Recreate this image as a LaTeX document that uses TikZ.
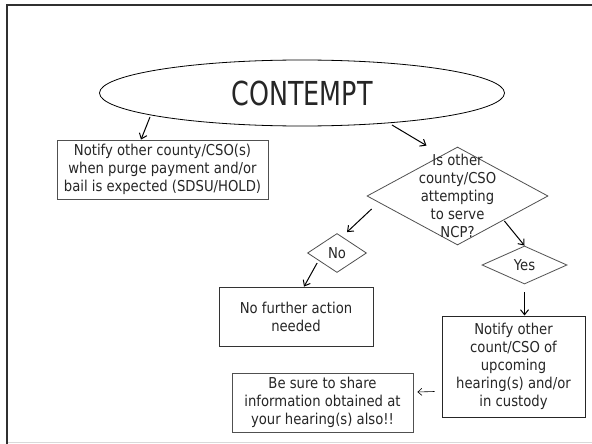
\documentclass[tikz,border=0pt]{standalone}
\usepackage{fontspec}
\setmainfont{DejaVu Sans}[FakeStretch=0.88]
\newfontfamily\titlefont{DejaVu Sans}[FakeStretch=0.77]
\usetikzlibrary{shapes.geometric,arrows.meta,calc}

\definecolor{ink}{HTML}{262626}
\definecolor{edge}{HTML}{505050}
\definecolor{framec}{HTML}{303030}

\tikzset{
  body/.style={font=\fontsize{15}{18}\selectfont, text=ink, align=center},
  box/.style={body, draw=edge, line width=0.8pt, inner sep=0pt, fill=white},
  decision/.style={body, diamond, draw=edge, line width=0.8pt, inner sep=0pt, fill=white},
  flow/.style={line width=1pt, -{Straight Barb[length=5pt,width=8pt]}},
  thinflow/.style={line width=0.6pt, -{Straight Barb[length=4pt,width=7pt]}},
}

\begin{document}
\begin{tikzpicture}[x=1pt, y=-1pt]
  \useasboundingbox (0,0) rectangle (592,444);
  \fill[white] (0,0) rectangle (592,444);

  % slide frame
  \draw[framec, line width=2.5pt] (7,444) -- (7,5) -- (592,5);
  \draw[black!15, line width=1pt] (8,442) -- (592,442);

  % start
  \node[ellipse, draw=black, line width=0.8pt, fill=white, inner sep=0pt,
        minimum width=405pt, minimum height=66pt,
        font=\titlefont\fontsize{33}{40}\selectfont, text=ink] (start) at (302,93) {CONTEMPT};

  % left branch
  \node[box, minimum width=211pt, minimum height=59pt] (notify) at (162.5,169.5)
    {Notify other county/CSO(s)\\when purge payment and/or\\bail is expected (SDSU/HOLD)};

  % question
  \node[diamond, draw=edge, line width=0.8pt, fill=white, inner sep=0pt,
        minimum width=181pt, minimum height=98pt] (ask) at (457.5,196) {};
  \node[body] (asktext) at (457.5,196)
    {Is other\\county/CSO\\attempting\\to serve\\NCP?};

  % answers
  \node[decision, minimum width=59pt, minimum height=39pt] (no) at (337,253) {No};
  \node[decision, minimum width=85pt, minimum height=38pt] (yes) at (524.5,265) {Yes};

  \node[box, draw=black!80, minimum width=154pt, minimum height=59pt] (none) at (296,316.5)
    {No further action\\needed};
  \node[box, draw=black!85, line width=1pt, minimum width=143pt, minimum height=101pt] (tell) at (513.5,366.5)
    {Notify other\\count/CSO of\\upcoming\\hearing(s) and/or\\in custody};
  \node[box, minimum width=181pt, minimum height=59pt] (share) at (322.5,402.5)
    {Be sure to share\\information obtained at\\your hearing(s) also!!};

  % connectors
  \draw[flow] ($(start.center)+(-152,24)$) -- ($(notify.north)+(-21.5,0)$);
  \draw[flow] ($(start.center)+(90,32)$) -- ($(ask.north)+(-31,-1)$);
  \draw[flow] ($(ask.west)+(5,13)$) -- ($(no.north)+(10,-1)$);
  \draw[flow] ($(no.west)+(10,10)$) -- ($(none.north)+(8,0)$);
  \draw[flow] ($(ask.east)+(-44,25)$) -- (yes.north);
  \draw[flow] ($(yes.south)+(0,8)$) -- (yes.south |- tell.north);
  \draw[thinflow] ($(tell.west)+(-7,25)$) -- ($(share.east)+(4,-10.5)$);
\end{tikzpicture}
\end{document}
